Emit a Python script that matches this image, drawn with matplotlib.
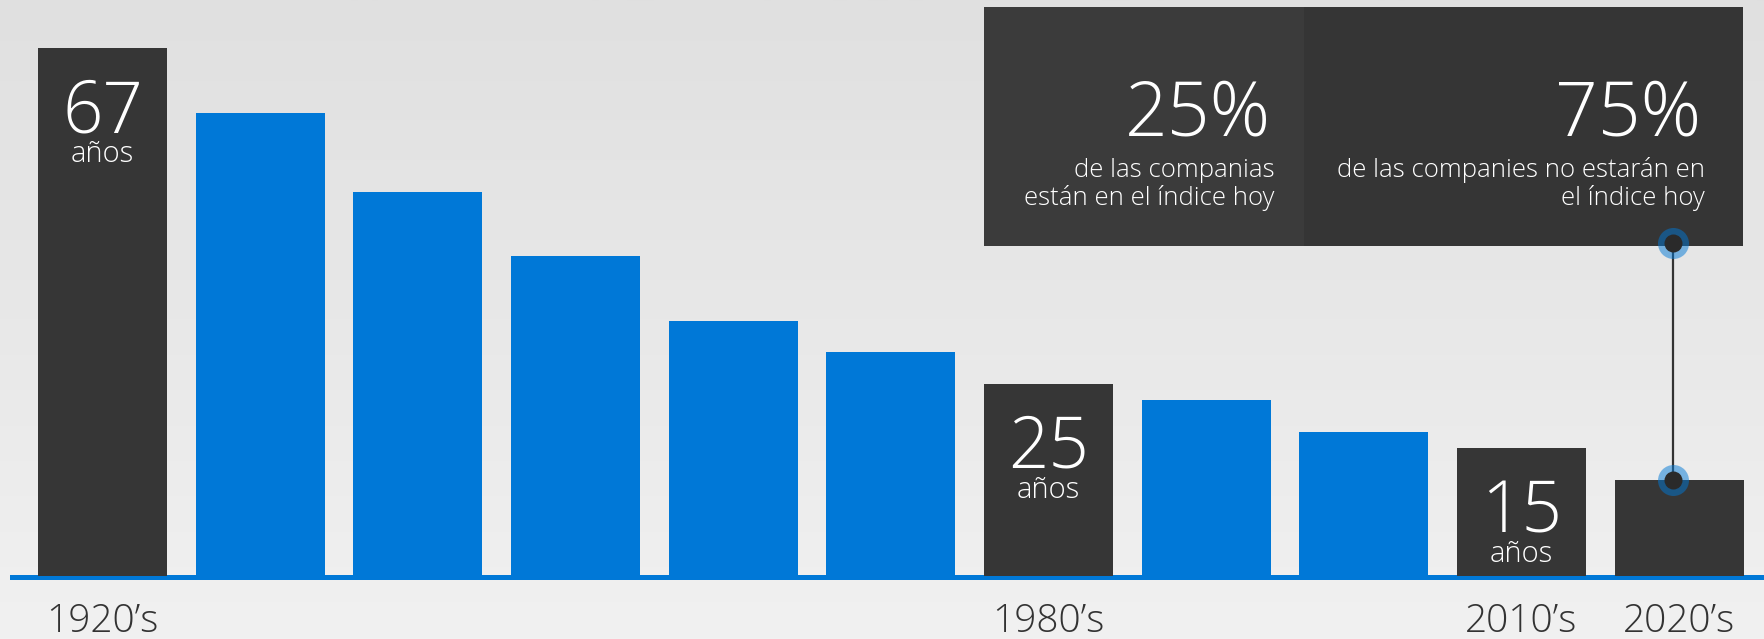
import numpy as np
import matplotlib.pyplot as plt
from matplotlib.colors import LinearSegmentedColormap
from matplotlib.patches import Rectangle

plt.rcParams['font.family'] = ['Open Sans', 'Lato', 'DejaVu Sans']

# datos (años de permanencia promedio en el índice)
decadas = ['1920’s', '', '', '', '', '', '1980’s', '', '', '2010’s', '2020’s']
valores = [67, 58.8, 48.7, 40.6, 32.4, 28.4, 24.4, 22.3, 18.3, 16.2, 12.2]
destacadas = [0, 6, 9, 10]
etiquetas = {0: '67', 6: '25', 9: '15'}

pct_izq = '25%'
txt_izq = ['de las companias', 'están en el índice hoy']
pct_der = '75%'
txt_der = ['de las companies no estarán en', 'el índice hoy']

azul = '#0078d7'
oscuro = '#363636'

W, H = 1764, 639
fig = plt.figure(figsize=(W / 100, H / 100), dpi=100)
ax = fig.add_axes([0, 0, 1, 1])

# escala: pixeles por barra / por año
paso = 157.67
x0 = 102.5
py = 528 / 67
base = 576
xlim = (-x0 / paso, (W - x0) / paso)
ylim = (-(H - base) / py, base / py)


def px(x):
    return (x - x0) / paso


def py_(y):
    return (base - y) / py


# fondo
grad = np.linspace(0, 1, 256).reshape(-1, 1)
cmap = LinearSegmentedColormap.from_list('bg', ['#f1f1f1', '#e8e8e8', '#e0e0e0'])
ax.imshow(grad, cmap=cmap, origin='lower', extent=[*xlim, *ylim], aspect='auto', zorder=0)
ax.set_xlim(*xlim)
ax.set_ylim(*ylim)
ax.axis('off')

x = np.arange(len(valores))
colores = [oscuro if i in destacadas else azul for i in x]
ax.bar(x, valores, width=129 / paso, color=colores, zorder=3)
ax.axhline(py_(576.5), xmin=12 / W, xmax=1, color=azul, lw=3.6, zorder=2)

for i, t in etiquetas.items():
    ax.annotate(t, (i, valores[i]), xytext=(0, -60.5), textcoords='offset points',
                ha='center', va='baseline', color='white', fontsize=51, fontweight='light', zorder=5)
    ax.annotate('años', (i, valores[i]), xytext=(0, -82), textcoords='offset points',
                ha='center', va='baseline', color='white', fontsize=21, fontweight='light', zorder=5)

for i, d in enumerate(decadas):
    if d:
        ax.text(i, py_(632), d, ha='center', va='baseline', color='#333333',
                fontsize=28, fontweight='light', zorder=5)

# recuadro
ax.add_patch(Rectangle((px(984), py_(246)), px(1304) - px(984), py_(7) - py_(246),
                       color='#3b3b3b', zorder=4, lw=0))
ax.add_patch(Rectangle((px(1304), py_(246)), px(1743) - px(1304), py_(7) - py_(246),
                       color='#353535', zorder=4, lw=0))
ax.text(px(1271), py_(135), pct_izq, ha='right', va='baseline', color='white',
        fontsize=54, fontweight='light', zorder=5)
ax.text(px(1701), py_(135), pct_der, ha='right', va='baseline', color='white',
        fontsize=54, fontweight='light', zorder=5)
for k, (a, b) in enumerate(zip(txt_izq, txt_der)):
    yb = py_(177 + 27.5 * k)
    ax.text(px(1275), yb, a, ha='right', va='baseline', color='white',
            fontsize=18.5, fontweight='light', zorder=5)
    ax.text(px(1705), yb, b, ha='right', va='baseline', color='white',
            fontsize=18.5, fontweight='light', zorder=5)

# conector
n = len(valores) - 1
xc = px(1673)
ax.plot([xc, xc], [valores[n], py_(243)], color='#333333', lw=1.6, zorder=6)
for yc in [valores[n], py_(243)]:
    ax.plot(xc, yc, 'o', ms=31 * 0.72, mfc=(0.0, 0.47, 0.84, 0.5), mec='none', zorder=7)
    ax.plot(xc, yc, 'o', ms=18 * 0.72, mfc='#2a2a2a', mec='none', zorder=8)

fig.savefig('out.png', dpi=100)
